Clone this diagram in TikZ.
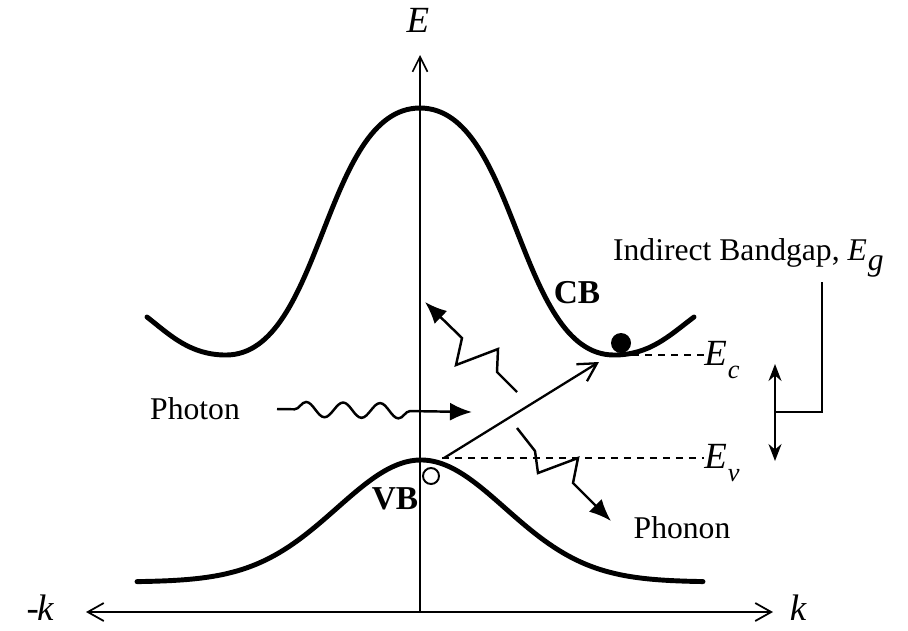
\documentclass[tikz,border=0pt]{standalone}
\usepackage{fontspec}
\setmainfont{Liberation Serif}
\usetikzlibrary{arrows.meta,decorations.pathmorphing}

\begin{document}
\begin{tikzpicture}[x=0.02cm,y=-0.02cm,
  lbl/.style={font=\fontsize{18}{20}\selectfont,inner sep=1pt},
  axlbl/.style={font=\fontsize{21}{22}\selectfont\itshape,inner sep=0pt},
  band/.style={line width=2.8pt,line join=round,line cap=round},
  zig/.style={line width=1.4pt,line join=miter,-{Latex[length=4.4mm,width=3.6mm]}},
  lvl/.style={line width=1pt,dash pattern=on 1.4mm off 1.2mm}]
\useasboundingbox (0,0) rectangle (908,630);
% axes
\coordinate (org) at (420,612);
\coordinate (kR) at (773,612);
\coordinate (kL) at (86,612);
\coordinate (Etop) at (420,55);
\draw[line width=1pt,{Straight Barb[length=3.2mm,width=3.6mm]}-{Straight Barb[length=3.2mm,width=3.6mm]}] (kL) -- (kR);
\draw[line width=0.9pt,-{Straight Barb[length=3mm,width=3mm]}] (org) -- (Etop);
\node[axlbl] (lE) at (418,20) {E};
\node[axlbl] (lk) at (798,608) {k};
\node[axlbl] (lmk) at (40,608) {-\kern-1pt k};
% bands
\draw[band] (147,317) .. controls (170,335) and (190,355) .. (226,355)
  .. controls (323,355) and (323,108) .. (420,108)
  .. controls (517,108) and (517,355) .. (614,355)
  .. controls (650,355) and (670,335) .. (694,317);
\draw[band,domain=-284:282,samples=90,smooth] plot ({\x+421},{582-122*exp(-(\x/100)^2/1.41)});
\node[font=\fontsize{19}{20}\selectfont\bfseries,inner sep=1pt] (lCB) at (577,293) {CB};
\node[font=\fontsize{19}{20}\selectfont\bfseries,inner sep=1pt] (lVB) at (395,499) {VB};
% carriers
\node[circle,fill,minimum width=3.6mm,minimum height=4mm,inner sep=0] (elec) at (621,343) {};
\node[circle,draw,line width=1.1pt,minimum size=3.2mm,inner sep=0] (hole) at (431,476) {};
% levels
\coordinate (ec0) at (632,355);
\coordinate (ev0) at (442,458);
\node[axlbl,anchor=west] (lEc) at (704,360) {E\kern0.5pt\raisebox{-7pt}{\fontsize{15}{15}\selectfont c}};
\node[axlbl,anchor=west] (lEv) at (704,463) {E\kern0.5pt\raisebox{-7pt}{\fontsize{15}{15}\selectfont v}};
\draw[lvl] (ec0) -- (ec0 -| lEc.west);
\draw[lvl] (ev0) -- (ev0 -| lEv.west);
% transition
\coordinate (tA) at (444,458);
\coordinate (tB) at (599,362);
\draw[line width=1.3pt,-{Straight Barb[length=3.6mm,width=4mm]}] (tA) -- (tB);
% photon
\node[lbl] (lPhoton) at (195,409) {Photon};
\coordinate (phA) at (277,409);
\coordinate (phB) at (472,412);
\draw[line width=1.4pt,decorate,decoration={snake,segment length=7.4mm,amplitude=1.5mm,pre length=3.5mm,post length=11mm},-{Latex[length=4.4mm,width=3.6mm]}] (phA) -- (phB);
% phonons
\coordinate (pu0) at (517,392);
\coordinate (pu1) at (425,302);
\draw[zig] (pu0) -- (497,372) -- (498,349) -- (456,365) -- (462,338) -- (pu1);
\coordinate (pd0) at (517,428);
\coordinate (pd1) at (611,521);
\draw[zig] (pd0) -- (535,451) -- (538,473) -- (578,458) -- (573,483) -- (pd1);
\node[lbl] (lPhonon) at (682,528) {Phonon};
% bandgap
\node[lbl,anchor=west] (lEg) at (611,258) {Indirect Bandgap, \textit{E}\kern0.5pt\raisebox{-6pt}{\textit{g}}};
\coordinate (gT) at (775,364);
\coordinate (gB) at (775,461);
\coordinate (gM) at (775,412);
\coordinate (gK) at (822,282);
\draw[line width=1pt,{Stealth[length=3.4mm,width=2.6mm]}-{Stealth[length=3.4mm,width=2.6mm]}] (gB) -- (gT);
\draw[line width=1pt] (gM) -| (gK);
\end{tikzpicture}
\end{document}
